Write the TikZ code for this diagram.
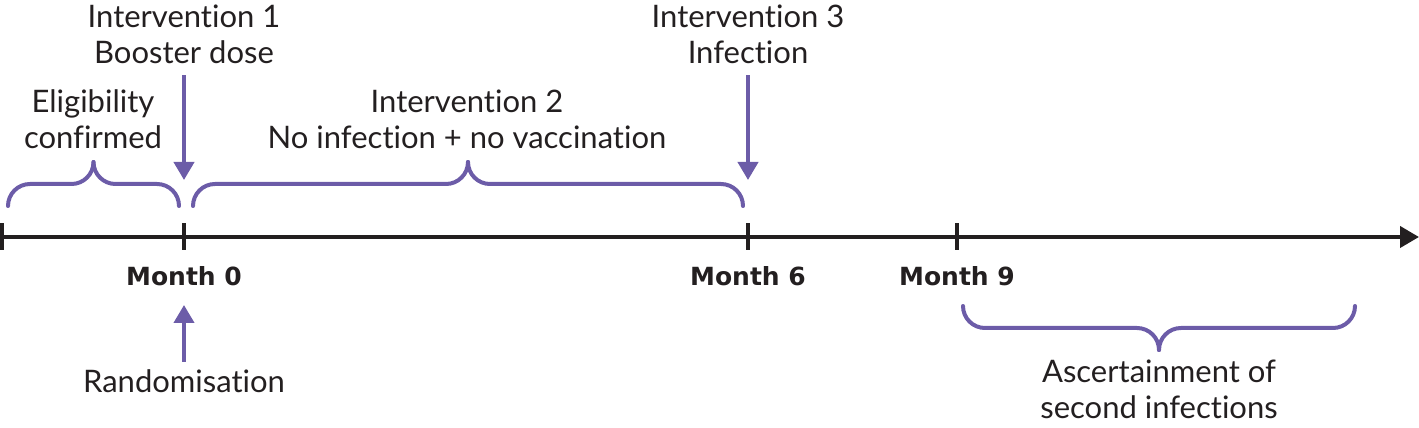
\documentclass[tikz,border=0pt]{standalone}
\usepackage{fontspec}
\setmainfont{Lato}[Ligatures=NoCommon]
\newfontfamily\monthfont{DejaVu Sans}
\usepackage{tikz}
\usetikzlibrary{positioning}
\usetikzlibrary{arrows.meta}
\definecolor{phasepurple}{RGB}{108,92,168}
\definecolor{axisblack}{RGB}{35,31,32}
\newcommand{\phasebrace}[4]{% left x, right x, end y, step
\draw[bracestyle] (#1,#3) -- (#1,{#3+(#4)}) -- ({(#1+#2)/2},{#3+(#4)}) -- ({(#1+#2)/2},{#3+2*(#4)});
\draw[bracestyle] ({(#1+#2)/2},{#3+2*(#4)}) -- ({(#1+#2)/2},{#3+(#4)}) -- (#2,{#3+(#4)}) -- (#2,#3);%
}

\begin{document}
\begin{tikzpicture}[x=1pt, y=1pt,
labelnode/.style={align=center, inner sep=0pt, text=axisblack, font=\fontsize{31}{36}\selectfont},
monthnode/.style={inner sep=0pt, text=axisblack, font=\fontsize{25}{28}\selectfont\monthfont\bfseries},
tickmark/.style={rectangle, fill=axisblack, minimum width=4pt, minimum height=27pt, inner sep=0pt},
timeline/.style={draw=axisblack, line width=4pt, -{Triangle[length=19pt, width=21pt]}},
markarrow/.style={draw=phasepurple, line width=4pt, -{Triangle[length=18pt, width=20pt]}},
bracestyle/.style={draw=phasepurple, line width=4pt, line cap=round, rounded corners=22pt},
]
\useasboundingbox (0,0) rectangle (1419,428);

%Ticks
\node[tickmark]		(tl)	at (2,191)		{};
\node[tickmark]		(t0)	at (184,191)	{};
\node[tickmark]		(t6)	at (748,191)	{};
\node[tickmark]		(t9)	at (957,191)	{};
\coordinate			(tend)	at (1419,191);

%Month labels
\node[monthnode]	(m0)	[below=16pt of t0]	{Month 0};
\node[monthnode]	(m6)	[below=16pt of t6]	{Month 6};
\node[monthnode]	(m9)	[below=16pt of t9]	{Month 9};

%Labels (base = last line)
\node[labelnode, anchor=base]	(int1)		at (184,364)	{Intervention 1\\Booster dose};
\node[labelnode, anchor=base]	(elig)		at (93,279)		{Eligibility\\confirmed};
\node[labelnode, anchor=base]	(int2)		at (467,279)	{Intervention 2\\No infection + no vaccination};
\node[labelnode, anchor=base]	(int3)		at (748,364)	{Intervention 3\\Infection};
\node[labelnode, anchor=base]	(rand)		at (184,35)		{Randomisation};
\node[labelnode, anchor=base]	(ascert)	at (1159,9)		{Ascertainment of\\second infections};

%Arrow ends
\coordinate (a1) at (184,248);
\coordinate (a3) at (748,248);
\coordinate (a0) at (184,123);

%Lines
\draw[timeline] (tl.center) -- (tend);
\draw[markarrow, shorten <=11pt] (int1.south) -- (a1);
\draw[markarrow, shorten <=11pt] (int3.south) -- (a3);
\draw[markarrow, shorten <=8pt] (rand.north) -- (a0);

%Braces
\phasebrace{8}{179}{222}{22}
\phasebrace{193}{743}{222}{22}
\phasebrace{963}{1355}{122}{-22}
\end{tikzpicture}
\end{document}
